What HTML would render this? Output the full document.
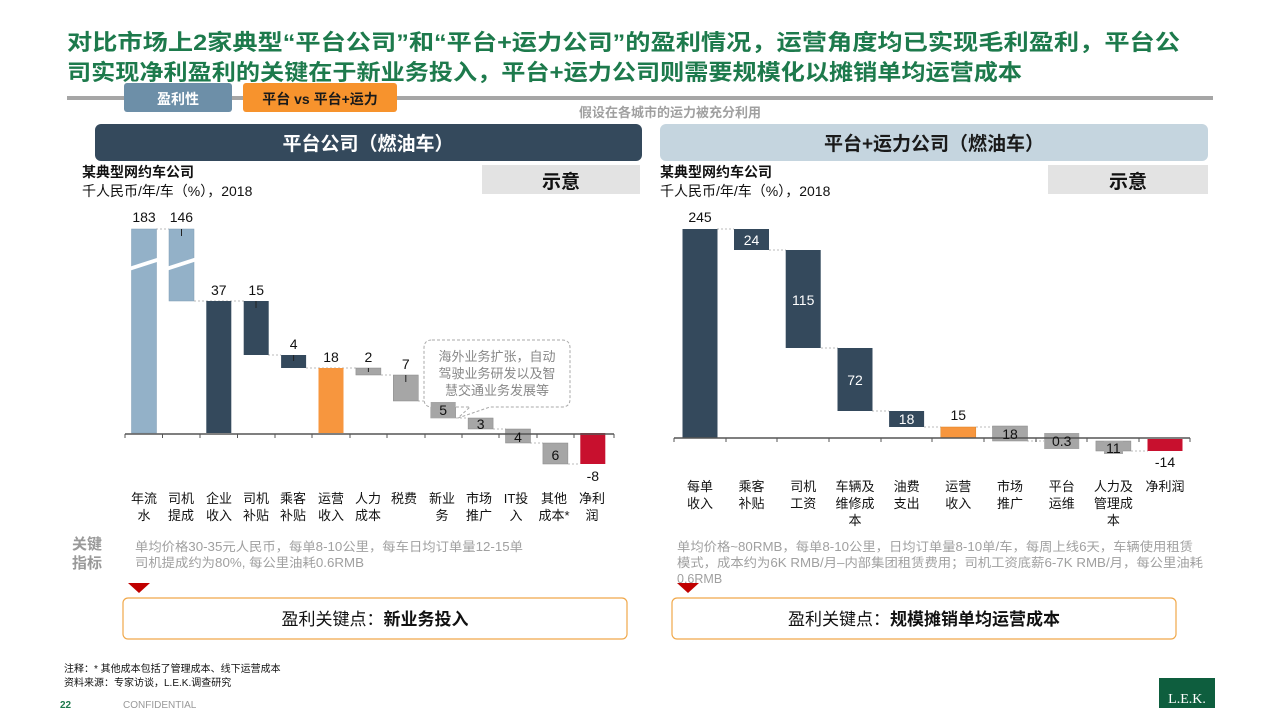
<!DOCTYPE html>
<html><head><meta charset="utf-8">
<style>
html,body{margin:0;padding:0;background:#fff;width:1280px;height:720px;overflow:hidden}
svg{display:block}
text{font-family:"Liberation Sans","Noto Sans CJK SC",sans-serif}
</style></head><body>
<svg width="1280" height="720" viewBox="0 0 1280 720" xmlns="http://www.w3.org/2000/svg">
<g font-size="22" font-weight="bold" fill="#1d7a4c">
<text x="67" y="50" textLength="1113" lengthAdjust="spacingAndGlyphs">对比市场上2家典型“平台公司”和“平台+运力公司”的盈利情况，运营角度均已实现毛利盈利，平台公</text>
<text x="67" y="80" textLength="955" lengthAdjust="spacingAndGlyphs">司实现净利盈利的关键在于新业务投入，平台+运力公司则需要规模化以摊销单均运营成本</text>
</g>
<rect x="67" y="96" width="1146" height="4" fill="#a6a6a6"/>
<rect x="124" y="83" width="108" height="29" rx="3" fill="#6d8fa8"/>
<text x="178" y="104" font-size="14" fill="#fff" text-anchor="middle" font-weight="bold">盈利性</text>
<rect x="243" y="83" width="154" height="29" rx="3" fill="#f7932d"/>
<text x="320" y="104" font-size="14" fill="#1a1a1a" text-anchor="middle" font-weight="bold">平台 vs 平台+运力</text>
<text x="670" y="117" font-size="13" fill="#a0a0a0" text-anchor="middle" font-weight="bold">假设在各城市的运力被充分利用</text>
<rect x="95" y="124" width="547" height="37" rx="6" fill="#34495c"/>
<text x="368" y="150" font-size="19" fill="#fff" text-anchor="middle" font-weight="bold">平台公司（燃油车）</text>
<rect x="660" y="124" width="548" height="37" rx="6" fill="#c5d5df"/>
<text x="934" y="150" font-size="19" fill="#1a1a1a" text-anchor="middle" font-weight="bold">平台+运力公司（燃油车）</text>
<g font-size="14" fill="#111">
<text x="82" y="177" font-weight="bold">某典型网约车公司</text>
<text x="82" y="196">千人民币/年/车（%），2018</text>
<text x="660" y="177" font-weight="bold">某典型网约车公司</text>
<text x="660" y="196">千人民币/年/车（%），2018</text>
</g>
<rect x="482" y="165" width="158" height="29" fill="#e3e3e3"/>
<text x="561" y="188" font-size="19" font-weight="bold" text-anchor="middle" fill="#111">示意</text>
<rect x="1048" y="165" width="160" height="29" fill="#e3e3e3"/>
<text x="1128" y="188" font-size="19" font-weight="bold" text-anchor="middle" fill="#111">示意</text>

<!-- LEFT CHART -->
<g>
<g stroke="#bbb" stroke-width="1" stroke-dasharray="2,2">
<line x1="156" y1="229" x2="169" y2="229"/>
<line x1="194" y1="301" x2="244" y2="301"/>
<line x1="268" y1="355" x2="281" y2="355"/>
<line x1="306" y1="368" x2="356" y2="368"/>
<line x1="381" y1="375" x2="393" y2="375"/>
<line x1="418" y1="401" x2="431" y2="401"/>
<line x1="456" y1="418" x2="468" y2="418"/>
<line x1="493" y1="429" x2="506" y2="429"/>
<line x1="530" y1="443" x2="543" y2="443"/>
<line x1="568" y1="464" x2="580" y2="464"/>
</g>
<rect x="131.5" y="229" width="25" height="204" fill="#93b1c8" stroke="#7f9db5" stroke-width="0.5"/>
<rect x="169" y="229" width="25" height="72" fill="#93b1c8" stroke="#7f9db5" stroke-width="0.5"/>
<polygon points="126,268 160,257 160,261 126,272" fill="#fff"/>
<polygon points="163,268 197,257 197,261 163,272" fill="#fff"/>
<rect x="206.3" y="301" width="25" height="132" fill="#34495c"/>
<rect x="243.7" y="301" width="25" height="54" fill="#34495c"/>
<rect x="281.1" y="355" width="25" height="13" fill="#34495c"/>
<rect x="318.5" y="368" width="25" height="65" fill="#f7963e"/>
<rect x="355.9" y="368" width="25" height="7" fill="#a6a6a6" stroke="#888" stroke-width="0.5"/>
<rect x="393.3" y="375" width="25" height="26" fill="#a6a6a6" stroke="#888" stroke-width="0.5"/>
<rect x="430.7" y="401" width="25" height="17" fill="#a6a6a6" stroke="#888" stroke-width="0.5"/>
<rect x="468.1" y="418" width="25" height="11" fill="#a6a6a6" stroke="#888" stroke-width="0.5"/>
<rect x="505.5" y="429" width="25" height="14" fill="#a6a6a6" stroke="#888" stroke-width="0.5"/>
<rect x="542.9" y="443" width="25" height="21" fill="#a6a6a6" stroke="#888" stroke-width="0.5"/>
<rect x="580.3" y="433" width="25" height="31" fill="#c8102e"/>
<line x1="125" y1="434" x2="614" y2="434" stroke="#555" stroke-width="1.5"/>
<g stroke="#555" stroke-width="1">
<line x1="125" y1="434" x2="125" y2="438"/><line x1="162.5" y1="434" x2="162.5" y2="438"/><line x1="200" y1="434" x2="200" y2="438"/><line x1="237.5" y1="434" x2="237.5" y2="438"/><line x1="275" y1="434" x2="275" y2="438"/><line x1="312" y1="434" x2="312" y2="438"/><line x1="350" y1="434" x2="350" y2="438"/><line x1="387" y1="434" x2="387" y2="438"/><line x1="425" y1="434" x2="425" y2="438"/><line x1="462" y1="434" x2="462" y2="438"/><line x1="499" y1="434" x2="499" y2="438"/><line x1="537" y1="434" x2="537" y2="438"/><line x1="574" y1="434" x2="574" y2="438"/><line x1="614" y1="434" x2="614" y2="438"/>
</g>
<g stroke="#222" stroke-width="1">
<line x1="181.5" y1="229" x2="181.5" y2="236"/>
<line x1="256" y1="301" x2="256" y2="308"/>
<line x1="293.6" y1="355" x2="293.6" y2="361"/>
<line x1="368.4" y1="368" x2="368.4" y2="372"/>
<line x1="405.8" y1="375" x2="405.8" y2="382"/>
</g>
<g font-size="14" fill="#111" text-anchor="middle">
<text x="144" y="222">183</text><text x="181.4" y="222">146</text>
<text x="218.8" y="295">37</text><text x="256.2" y="295">15</text>
<text x="293.6" y="349">4</text><text x="331" y="362">18</text>
<text x="368.4" y="362">2</text>
<text x="405.8" y="369">7</text>
<text x="443.2" y="415">5</text><text x="480.6" y="429">3</text><text x="518" y="442">4</text>
<text x="555.4" y="460">6</text><text x="592.8" y="481">-8</text>
</g>
<path d="M432,340 H562 Q570,340 570,348 V399 Q570,407 562,407 H490 L458,418 L470,407 H432 Q424,407 424,399 V348 Q424,340 432,340 Z" fill="#fff" stroke="#aaa" stroke-width="1" stroke-dasharray="3,2"/>
<g font-size="13" fill="#888" text-anchor="middle">
<text x="497" y="361">海外业务扩张，自动</text>
<text x="497" y="378">驾驶业务研发以及智</text>
<text x="497" y="395">慧交通业务发展等</text>
</g>
<rect x="430.7" y="402" width="25" height="16" fill="#a6a6a6"/>
<text x="443.2" y="415" font-size="14" fill="#111" text-anchor="middle">5</text>
<g font-size="13" fill="#111" text-anchor="middle">
<text x="144" y="503">年流</text><text x="144" y="520">水</text>
<text x="181" y="503">司机</text><text x="181" y="520">提成</text>
<text x="219" y="503">企业</text><text x="219" y="520">收入</text>
<text x="256" y="503">司机</text><text x="256" y="520">补贴</text>
<text x="293" y="503">乘客</text><text x="293" y="520">补贴</text>
<text x="331" y="503">运营</text><text x="331" y="520">收入</text>
<text x="368" y="503">人力</text><text x="368" y="520">成本</text>
<text x="404" y="503">税费</text>
<text x="442" y="503">新业</text><text x="442" y="520">务</text>
<text x="479" y="503">市场</text><text x="479" y="520">推广</text>
<text x="516" y="503">IT投</text><text x="516" y="520">入</text>
<text x="554" y="503">其他</text><text x="554" y="520">成本*</text>
<text x="592" y="503">净利</text><text x="592" y="520">润</text>
</g>
</g>

<!-- RIGHT CHART -->
<g>
<g stroke="#bbb" stroke-width="1" stroke-dasharray="2,2">
<line x1="717" y1="229" x2="734" y2="229"/>
<line x1="769" y1="250" x2="786" y2="250"/>
<line x1="821" y1="348" x2="838" y2="348"/>
<line x1="872" y1="411" x2="889" y2="411"/>
<line x1="924" y1="427" x2="941" y2="427"/>
<line x1="976" y1="427" x2="993" y2="427"/>
<line x1="1027" y1="441" x2="1044" y2="441"/>
<line x1="1131" y1="451" x2="1148" y2="451"/>
</g>
<rect x="682.5" y="229" width="35" height="209" fill="#34495c"/>
<rect x="734" y="229" width="35" height="21" fill="#34495c"/>
<rect x="785.7" y="250" width="35" height="98" fill="#34495c"/>
<rect x="837.5" y="348" width="35" height="63" fill="#34495c"/>
<rect x="889.1" y="411" width="35" height="16" fill="#34495c"/>
<rect x="940.8" y="427" width="35" height="11" fill="#f7963e" stroke="#d98020" stroke-width="0.5"/>
<rect x="992.5" y="426" width="35" height="15" fill="#a6a6a6" stroke="#888" stroke-width="0.5"/>
<rect x="1044.2" y="433" width="35" height="16" fill="#a6a6a6"/>
<rect x="1095.9" y="441" width="35" height="10" fill="#a6a6a6" stroke="#888" stroke-width="0.5"/>
<rect x="1104" y="441" width="19" height="13" fill="#a6a6a6"/>
<rect x="1147.5" y="439" width="35" height="12" fill="#c8102e"/>
<line x1="674" y1="438" x2="1190" y2="438" stroke="#555" stroke-width="1.5"/>
<g stroke="#555" stroke-width="1">
<line x1="674" y1="438" x2="674" y2="442"/><line x1="726" y1="438" x2="726" y2="442"/><line x1="777" y1="438" x2="777" y2="442"/><line x1="829" y1="438" x2="829" y2="442"/><line x1="881" y1="438" x2="881" y2="442"/><line x1="932" y1="438" x2="932" y2="442"/><line x1="984" y1="438" x2="984" y2="442"/><line x1="1036" y1="438" x2="1036" y2="442"/><line x1="1087" y1="438" x2="1087" y2="442"/><line x1="1139" y1="438" x2="1139" y2="442"/><line x1="1190" y1="438" x2="1190" y2="442"/>
</g>
<g font-size="14" text-anchor="middle">
<text x="700" y="222" fill="#111">245</text>
<text x="751.5" y="245" fill="#fff">24</text>
<text x="803.2" y="305" fill="#fff">115</text>
<text x="855" y="385" fill="#fff">72</text>
<text x="906.6" y="424" fill="#fff">18</text>
<text x="958.3" y="420" fill="#111">15</text>
<text x="1010" y="439" fill="#111">18</text>
<text x="1061.7" y="446" fill="#111">0.3</text>
<text x="1113.4" y="453" fill="#111">11</text>
<text x="1165" y="467" fill="#111">-14</text>
</g>
<g font-size="13" fill="#111" text-anchor="middle">
<text x="700" y="491">每单</text><text x="700" y="508">收入</text>
<text x="751.5" y="491">乘客</text><text x="751.5" y="508">补贴</text>
<text x="803.2" y="491">司机</text><text x="803.2" y="508">工资</text>
<text x="855" y="491">车辆及</text><text x="855" y="508">维修成</text><text x="855" y="525">本</text>
<text x="906.6" y="491">油费</text><text x="906.6" y="508">支出</text>
<text x="958.3" y="491">运营</text><text x="958.3" y="508">收入</text>
<text x="1010" y="491">市场</text><text x="1010" y="508">推广</text>
<text x="1061.7" y="491">平台</text><text x="1061.7" y="508">运维</text>
<text x="1113.4" y="491">人力及</text><text x="1113.4" y="508">管理成</text><text x="1113.4" y="525">本</text>
<text x="1165" y="491">净利润</text>
</g>
</g>

<g font-size="15" font-weight="bold" fill="#999">
<text x="72" y="549">关键</text><text x="72" y="568">指标</text>
</g>
<g font-size="12.5" fill="#a0a0a0">
<text x="135" y="551" textLength="388" lengthAdjust="spacingAndGlyphs">单均价格30-35元人民币，每单8-10公里，每车日均订单量12-15单</text>
<text x="135" y="567" textLength="229" lengthAdjust="spacingAndGlyphs">司机提成约为80%, 每公里油耗0.6RMB</text>
<text x="677" y="551" textLength="516" lengthAdjust="spacingAndGlyphs">单均价格~80RMB，每单8-10公里，日均订单量8-10单/车，每周上线6天，车辆使用租赁</text>
<text x="677" y="567" textLength="526" lengthAdjust="spacingAndGlyphs">模式，成本约为6K RMB/月–内部集团租赁费用；司机工资底薪6-7K RMB/月，每公里油耗</text>
<text x="677" y="583">0.6RMB</text>
</g>
<polygon points="128,583 150,583 139,593" fill="#c00000"/>
<polygon points="677,583 699,583 688,593" fill="#c00000"/>
<rect x="123" y="598" width="504" height="41" rx="5" fill="#fff" stroke="#f0a84a" stroke-width="1.2"/>
<text x="375" y="625" font-size="17" text-anchor="middle" fill="#111">盈利关键点：<tspan font-weight="bold">新业务投入</tspan></text>
<rect x="672" y="598" width="504" height="41" rx="5" fill="#fff" stroke="#f0a84a" stroke-width="1.2"/>
<text x="924" y="625" font-size="17" text-anchor="middle" fill="#111">盈利关键点：<tspan font-weight="bold">规模摊销单均运营成本</tspan></text>

<g font-size="10" fill="#111">
<text x="64" y="672">注释：* 其他成本包括了管理成本、线下运营成本</text>
<text x="64" y="686">资料来源：专家访谈，L.E.K.调查研究</text>
</g>
<text x="60" y="708" font-size="10" font-weight="bold" fill="#1d7a4c">22</text>
<text x="123" y="708" font-size="10" fill="#999">CONFIDENTIAL</text>
<rect x="1159" y="678" width="56" height="30" fill="#0e5e3e"/>
<text x="1187" y="703" font-size="14" fill="#fff" text-anchor="middle" style="font-family:'Liberation Serif',serif">L.E.K.</text>
</svg>
</body></html>
